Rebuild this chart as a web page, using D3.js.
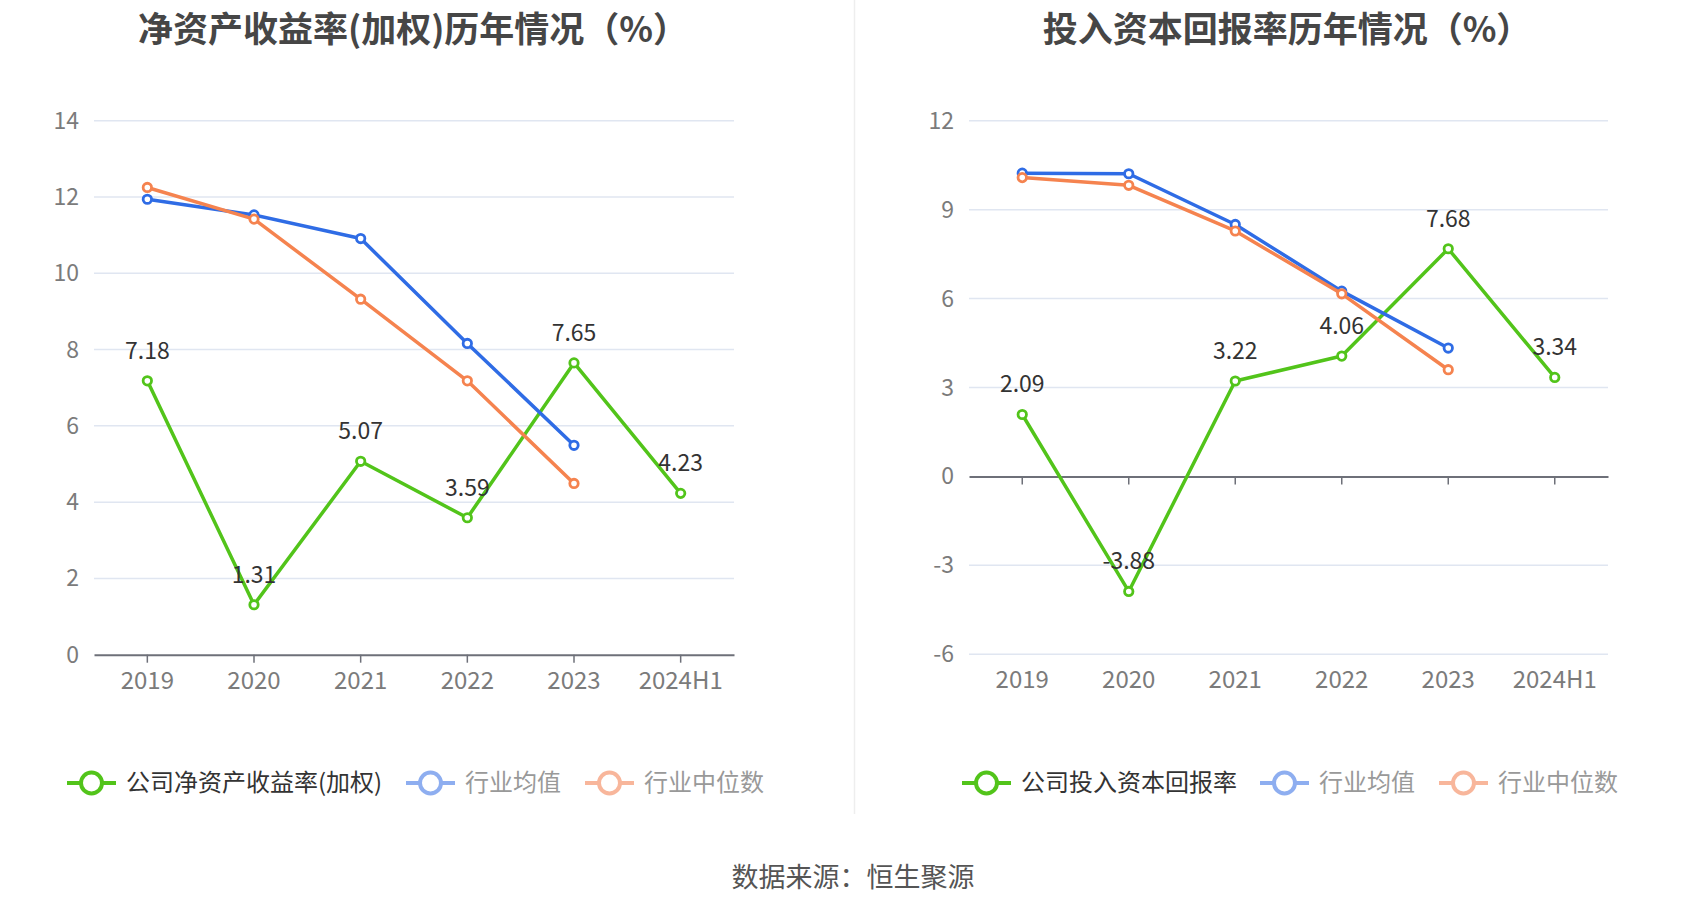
<!DOCTYPE html>
<html>
<head>
<meta charset="utf-8">
<script src="https://cdn.jsdelivr.net/npm/d3@7"></script>
<style>
  body { margin: 0; background: #fff; }
  svg { display: block; font-family: "Noto Sans CJK SC", "Noto Sans", sans-serif; }
</style>
</head>
<body>
<div id="chart"></div>
<script>
'use strict'

// categories & series
const years = ['2019', '2020', '2021', '2022', '2023', '2024H1']

const roeCompany = [7.18, 1.31, 5.07, 3.59, 7.65, 4.23]
const roeMean = [11.94, 11.53, 10.91, 8.16, 5.49, null]
const roeMedian = [12.25, 11.42, 9.32, 7.18, 4.49, null]
const roeTicks = [0, 2, 4, 6, 8, 10, 12, 14]

const roicCompany = [2.09, -3.88, 3.22, 4.06, 7.68, 3.34]
const roicMean = [10.23, 10.21, 8.50, 6.25, 4.33, null]
const roicMedian = [10.08, 9.82, 8.28, 6.16, 3.60, null]
const roicTicks = [-6, -3, 0, 3, 6, 9, 12]

const GREEN = '#52c41a', BLUE = '#2f6ce5', ORANGE = '#f5834f'

////////////////////////////////////
//////////// svg setup /////////////
////////////////////////////////////

const svgWidth = 1700, svgHeight = 918

const svg = d3.select('#chart')
    .append('svg')
    .attr('width', svgWidth)
    .attr('height', svgHeight)
    .attr('viewBox', `0 0 ${svgWidth} ${svgHeight}`)

// panel divider
svg.append('line')
    .attr('x1', 854.5).attr('x2', 854.5)
    .attr('y1', 0).attr('y2', 814)
    .attr('stroke', '#eeeeee')
    .attr('stroke-width', 1.5)

function panel(opt) {
    const g = svg.append('g')

    const x = d3.scaleBand().domain(years).range([opt.left, opt.right]).padding(0)
    const cx = d => x(d) + x.bandwidth() / 2
    const y = d3.scaleLinear().domain(d3.extent(opt.ticks)).range([opt.bottom, opt.top])

    // title
    g.append('text')
        .attr('x', opt.titleX)
        .attr('y', 42)
        .attr('text-anchor', 'middle')
        .attr('font-size', 35)
        .attr('font-weight', 'bold')
        .attr('fill', '#464646')
        .text(opt.title)

    // grid lines
    g.append('g')
        .selectAll('line')
        .data(opt.ticks.filter(t => t !== 0))
        .join('line')
        .attr('x1', opt.left).attr('x2', opt.right)
        .attr('y1', d => y(d)).attr('y2', d => y(d))
        .attr('stroke', '#e0e6f1')
        .attr('stroke-width', 1.5)

    // y labels
    g.append('g')
        .selectAll('text')
        .data(opt.ticks)
        .join('text')
        .attr('x', opt.left - 15)
        .attr('y', d => y(d))
        .attr('dy', '0.35em')
        .attr('text-anchor', 'end')
        .attr('font-size', 23)
        .attr('fill', '#7b7b7b')
        .text(d => d)

    // x axis at zero
    const xAxis = d3.axisBottom(x).tickSize(8).tickSizeOuter(0).tickFormat('')
    const ax = g.append('g')
        .attr('transform', `translate(0,${y(0)})`)
        .call(xAxis)
    ax.select('.domain').attr('stroke', '#6e7079').attr('stroke-width', 2)
    ax.selectAll('.tick line').attr('stroke', '#6e7079').attr('stroke-width', 1.5)

    // x labels at bottom
    g.append('g')
        .selectAll('text')
        .data(years)
        .join('text')
        .attr('x', d => cx(d))
        .attr('y', opt.bottom + 34)
        .attr('text-anchor', 'middle')
        .attr('font-size', 24)
        .attr('fill', '#7b7b7b')
        .text(d => d)

    const line = d3.line()
        .defined(d => d[1] !== null)
        .x(d => cx(d[0]))
        .y(d => y(d[1]))

    const series = [
        { values: opt.company, color: GREEN },
        { values: opt.mean, color: BLUE },
        { values: opt.median, color: ORANGE }
    ]

    series.forEach(s => {
        const pts = years.map((yr, i) => [yr, s.values[i]])
        g.append('path')
            .datum(pts)
            .attr('d', line)
            .attr('fill', 'none')
            .attr('stroke', s.color)
            .attr('stroke-width', 3.5)
            .attr('stroke-linejoin', 'round')

        g.append('g')
            .selectAll('circle')
            .data(pts.filter(d => d[1] !== null))
            .join('circle')
            .attr('cx', d => cx(d[0]))
            .attr('cy', d => y(d[1]))
            .attr('r', 4.2)
            .attr('fill', '#fff')
            .attr('stroke', s.color)
            .attr('stroke-width', 2.8)
    })

    // value labels for the company series
    g.append('g')
        .selectAll('text')
        .data(years.map((yr, i) => [yr, opt.company[i]]))
        .join('text')
        .attr('x', d => cx(d[0]))
        .attr('y', d => y(d[1]) - 22)
        .attr('text-anchor', 'middle')
        .attr('font-size', 23)
        .attr('fill', '#333')
        .text(d => d[1].toFixed(2))

    // legend
    const legend = [
        { name: opt.legendName, color: GREEN, text: '#333' },
        { name: '行业均值', color: '#8eaef0', text: '#999' },
        { name: '行业中位数', color: '#f8b69b', text: '#999' }
    ]
    const ly = 783
    legend.forEach((l, i) => {
        const lx = opt.legendX[i]
        const lg = g.append('g')
        lg.append('line')
            .attr('x1', lx).attr('x2', lx + 49)
            .attr('y1', ly).attr('y2', ly)
            .attr('stroke', l.color)
            .attr('stroke-width', 4)
        lg.append('circle')
            .attr('cx', lx + 24.5).attr('cy', ly)
            .attr('r', 10.5)
            .attr('fill', '#fff')
            .attr('stroke', l.color)
            .attr('stroke-width', 4)
        lg.append('text')
            .attr('x', lx + 59)
            .attr('y', ly)
            .attr('dy', '0.35em')
            .attr('font-size', 24)
            .attr('fill', l.text)
            .text(l.name)
    })
}

panel({
    title: '净资产收益率(加权)历年情况（%）',
    titleX: 413,
    left: 94, right: 734, top: 120.7, bottom: 654.7,
    ticks: roeTicks,
    company: roeCompany, mean: roeMean, median: roeMedian,
    legendName: '公司净资产收益率(加权)',
    legendX: [67, 406, 585]
})

panel({
    title: '投入资本回报率历年情况（%）',
    titleX: 1287,
    left: 969, right: 1608, top: 120.7, bottom: 654.3,
    ticks: roicTicks,
    company: roicCompany, mean: roicMean, median: roicMedian,
    legendName: '公司投入资本回报率',
    legendX: [962, 1260, 1439]
})

// source
svg.append('text')
    .attr('x', 853)
    .attr('y', 878)
    .attr('dy', '0.35em')
    .attr('text-anchor', 'middle')
    .attr('font-size', 27)
    .attr('fill', '#555')
    .text('数据来源：恒生聚源')
</script>
</body>
</html>
